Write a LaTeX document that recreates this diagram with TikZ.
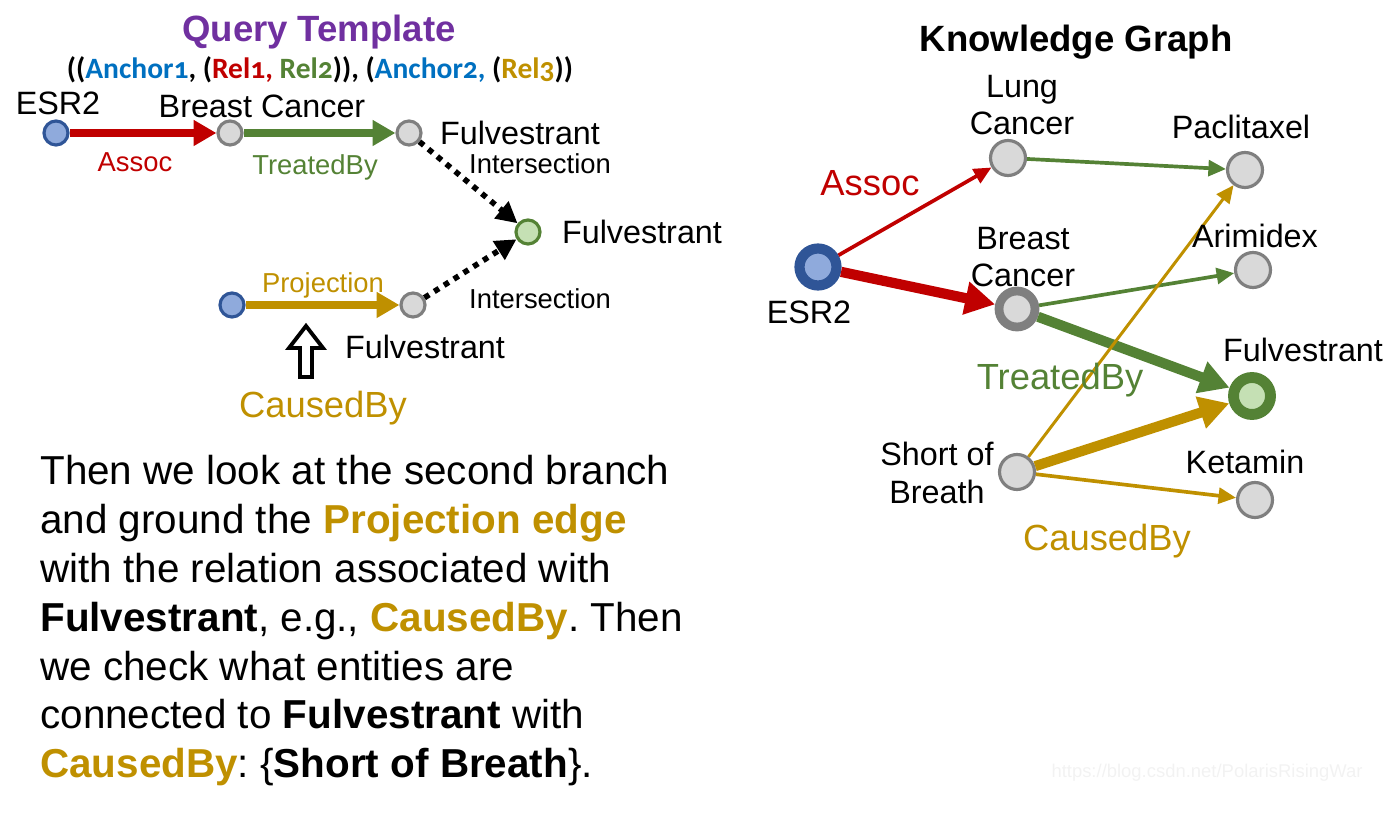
\documentclass[tikz,border=0pt]{standalone}
\usepackage{fontspec}
\setmainfont{Liberation Sans}
\newfontfamily\tplfont[Numbers=OldStyle]{Carlito}
\usetikzlibrary{arrows.meta}
\usetikzlibrary{positioning}

\definecolor{relred}{HTML}{C00000}
\definecolor{relgreen}{HTML}{548235}
\definecolor{relgold}{HTML}{BF9000}
\definecolor{titlepurple}{HTML}{7030A0}
\definecolor{anchorblue}{HTML}{0070C0}
\definecolor{ancborder}{HTML}{2F5597}
\definecolor{ancfill}{HTML}{8FAADC}
\definecolor{entgray}{HTML}{7F7F7F}
\definecolor{entfill}{HTML}{D9D9D9}
\definecolor{ansfill}{HTML}{C5E0B4}

\tikzset{
  ent/.style={circle,draw=entgray,fill=entfill,line width=1.8pt,minimum size=0.48cm,inner sep=0pt},
  anchorent/.style={ent,draw=ancborder,fill=ancfill},
  answerent/.style={ent,draw=relgreen,fill=ansfill},
  kgent/.style={ent,minimum size=0.7cm},
  qedge/.style={line width=4.6pt,-{Triangle[length=13pt,width=14pt]}},
  dotedge/.style={line width=3.2pt,dash pattern=on 3.2pt off 3.4pt,-{Triangle[length=12pt,width=12pt]}},
  kedge/.style={line width=2.1pt,-{Triangle[length=10pt,width=9pt]}},
  kthick/.style={line width=5.8pt,-{Triangle[length=17pt,width=18pt]}},
  namelbl/.style={font=\fontsize{18.4}{21.5}\selectfont,align=center,inner sep=0pt},
  rellbl/.style={font=\fontsize{15.6}{18}\selectfont,inner sep=0pt},
  biglbl/.style={font=\fontsize{20.7}{24}\selectfont,inner sep=0pt},
  headlbl/.style={font=\bfseries\fontsize{20.8}{24}\selectfont,inner sep=0pt}
}

\begin{document}
\begin{tikzpicture}[x=0.02cm,y=-0.02cm]
\useasboundingbox (0,0) rectangle (1400,813);

% query template
\node[headlbl,text=titlepurple] (qtitle) at (319,32) {Query Template};
\node[font=\tplfont\bfseries\fontsize{16.8}{19}\selectfont,inner sep=0pt] (qtpl) at (320,70)
  {((\textcolor{anchorblue}{Anchor1}, (\textcolor{relred}{Rel1,} \textcolor{relgreen}{Rel2})), (\textcolor{anchorblue}{Anchor2,} (\textcolor{relgold}{Rel3}))};

\node[anchorent] (qesr) at (56,133) {};
\node[ent] (qbc) at (230,133) {};
\node[ent] (qfulv1) at (409,133) {};
\node[answerent] (qans) at (528,232) {};
\node[anchorent] (qanc2) at (232,305) {};
\node[ent] (qfulv2) at (413,305) {};

\draw[qedge,relred] (qesr) -- (qbc);
\draw[qedge,relgreen] (qbc) -- (qfulv1);
\draw[qedge,relgold] (qanc2) -- (qfulv2);
\draw[dotedge] (qfulv1) -- (qans);
\draw[dotedge] (qfulv2) -- (qans);

\node[namelbl] (qesrname) at (58,103) {ESR2};
\node[namelbl] (qbcname) at (262,106) {Breast Cancer};
\node[namelbl] (qfulv1name) at (520,133) {Fulvestrant};
\node[namelbl] (qansname) at (642,232) {Fulvestrant};
\node[namelbl] (qfulv2name) at (425,347) {Fulvestrant};

\node[rellbl,text=relred] (qassoc) at (135,162) {Assoc};
\node[rellbl,text=relgreen] (qtreat) at (315,167) {TreatedBy};
\node[rellbl,text=relgold] (qproj) at (323,285) {Projection};
\node[rellbl] (qint1) at (540,164) {Intersection};
\node[rellbl] (qint2) at (540,299) {Intersection};

\draw[line width=2.2pt,fill=white] (300,377) -- (300,348) -- (289,348) -- (306,326) -- (323,348) -- (312,348) -- (312,377) -- cycle;
\node[biglbl,text=relgold] (qcaused) at (323,408) {CausedBy};

\node[font=\fontsize{23}{27.8}\selectfont\frenchspacing,align=left,anchor=north west,inner sep=0pt] (para) at (40,455)
  {Then we look at the second branch\\
   and ground the \textbf{\color{relgold}Projection edge}\\
   with the relation associated with\\
   \textbf{Fulvestrant}, e.g., \textbf{\color{relgold}CausedBy}.\ Then\\
   we check what entities are\\
   connected to \textbf{Fulvestrant} with\\
   \textbf{\color{relgold}CausedBy}: \{\textbf{Short of Breath}\}.};

% knowledge graph
\node[headlbl] (ktitle) at (1076,42) {Knowledge Graph};

\node[anchorent,line width=5.8pt,minimum size=0.74cm] (kesr) at (818,267) {};
\node[kgent] (klung) at (1008,158) {};
\node[kgent] (kpac) at (1245,170) {};
\node[kgent,line width=5pt,minimum size=0.72cm] (kbc) at (1017,309) {};
\node[kgent] (karim) at (1253,270) {};
\node[answerent,line width=6.2pt,minimum size=0.74cm] (kfulv) at (1252,396) {};
\node[kgent] (ksob) at (1017,472) {};
\node[kgent] (kket) at (1255,500) {};

\draw[kedge,relred] (kesr) -- (klung);
\draw[kthick,relred] (kesr) -- (kbc);
\draw[kedge,relgreen] (klung) -- (kpac);
\draw[kedge,relgreen] (kbc) -- (karim);
\draw[kthick,relgreen] (kbc) -- (kfulv);
\draw[kedge,relgold,line width=1.7pt] (ksob) -- (kpac);
\draw[kthick,relgold] (ksob) -- (kfulv);
\draw[kedge,relgold] (ksob) -- (kket);

\node[namelbl] (klungname) at (1022,105) {Lung\\Cancer};
\node[namelbl] (kpacname) at (1241,127) {Paclitaxel};
\node[namelbl] (kbcname) at (1023,257) {Breast\\Cancer};
\node[namelbl] (karimname) at (1255,236) {Arimidex};
\node[namelbl] (kesrname) at (809,312) {ESR2};
\node[namelbl] (kfulvname) at (1303,350) {Fulvestrant};
\node[namelbl] (ksobname) at (937,473) {Short of\\Breath};
\node[namelbl] (kketname) at (1245,462) {Ketamin};

\node[biglbl,text=relred] (kassoc) at (870,183) {Assoc};
\node[biglbl,text=relgreen] (ktreat) at (1060,380) {TreatedBy};
\node[biglbl,text=relgold] (kcaused) at (1107,541) {CausedBy};

\node[font=\fontsize{10.5}{12}\selectfont,text=black!5,inner sep=0pt] (wmark) at (1207,773) {https://blog.csdn.net/PolarisRisingWar};
\end{tikzpicture}
\end{document}
